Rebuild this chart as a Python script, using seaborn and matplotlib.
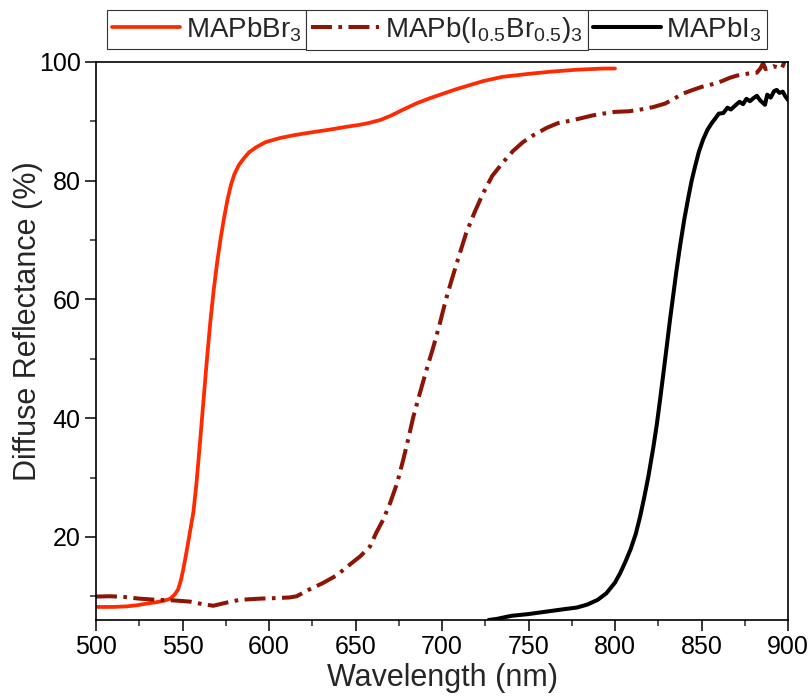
import matplotlib
matplotlib.use("Agg")
import matplotlib.pyplot as plt
import seaborn as sns
import numpy as np

# ---- data ----
br_x = [500, 510, 518, 524, 530, 535, 540, 543, 545.5, 547.4, 549, 550.5, 552.4, 554.3, 556.3,
        558, 560, 562, 564, 566, 568, 570, 572, 574, 576, 578, 580, 582.5, 585,
        588.5, 592.9, 598, 606.4, 615, 625.6, 635, 645, 652, 658, 664, 670, 677, 685, 693, 700,
        708, 716, 724, 735, 750, 764, 778, 793, 800]
br_y = [8.2, 8.2, 8.3, 8.5, 8.8, 9.0, 9.3, 9.6, 10.3, 11.1, 12.6, 14.6, 17.6, 20.8, 24.2,
        28.8, 35.5, 42.5, 49.5, 56.0, 61.5, 66.2, 70.2, 73.7, 76.8, 79.3, 81.1, 82.6, 83.6,
        84.8, 85.7, 86.5, 87.2, 87.7, 88.2, 88.6, 89.1, 89.4, 89.75, 90.2, 90.9, 91.9, 93.0, 93.9, 94.6,
        95.4, 96.1, 96.8, 97.5, 98.0, 98.4, 98.7, 98.9, 98.9]

mix_x = [500, 508, 515.8, 525, 535, 545, 554.3, 561, 567.8, 575, 583, 595, 605, 612, 616,
         623, 631, 639, 647, 653, 658.4, 662, 666, 670, 674, 677.6, 680.5, 683.4, 687, 691,
         695, 698.8, 702, 705.6, 710, 714, 719, 723.8, 729, 735, 741, 746.8, 753, 760.5, 767,
         774, 780, 787, 793, 800, 808, 815, 822, 829, 834, 839.5, 845, 850, 856.8, 862, 866,
         870.3, 874, 878, 882, 884, 885.6, 887, 889, 891.5, 894, 896.4, 897.5, 898.5, 900]
mix_y = [9.95, 10.0, 9.9, 9.6, 9.4, 9.3, 9.1, 8.7, 8.4, 8.9, 9.4, 9.6, 9.7, 9.8, 10.0,
         11.1, 12.2, 13.5, 15.4, 16.8, 18.4, 20.7, 22.9, 25.7, 29.0, 33.0, 36.5, 40.2, 44.0, 48.1,
         52.0, 56.0, 59.7, 63.3, 67.5, 71.2, 74.8, 77.9, 80.8, 83.0, 85.0, 86.5, 87.7, 88.9, 89.7,
         90.1, 90.5, 91.0, 91.3, 91.6, 91.7, 92.0, 92.4, 93.0, 93.8, 94.7, 95.3, 95.8, 96.3, 96.8, 97.3,
         97.7, 97.9, 98.1, 98.2, 98.9, 99.8, 98.8, 99.0, 99.3, 99.1, 98.9, 99.7, 100.5, 100.3]

i_x = [727, 732, 740, 750, 760, 770, 778, 784, 790, 795, 800, 803, 806, 809, 812, 814.5, 817,
       819.3, 822, 824.1, 826, 828, 830, 831.8, 833.7, 835.5, 837.6, 840, 842.4, 844.3, 846.2,
       848.5, 851, 853.5, 855.9, 858, 860, 862.6, 865, 867, 870, 872, 874, 876, 878, 880, 882,
       884, 886.7, 888, 890, 892, 893.5, 895, 897, 898.5, 900]
i_y = [6.0, 6.2, 6.7, 7.0, 7.4, 7.8, 8.1, 8.6, 9.4, 10.5, 12.3, 13.9, 15.8, 17.9, 20.5, 23.4, 26.8,
       30.2, 34.8, 38.8, 43.0, 47.6, 52.3, 56.6, 60.8, 64.8, 69.0, 73.4, 77.2, 80.0, 82.3,
       84.9, 87.0, 88.6, 89.7, 90.5, 91.3, 91.4, 92.3, 92.0, 92.8, 93.3, 92.9, 93.8, 93.4, 93.9, 94.3,
       93.5, 92.8, 94.5, 94.0, 95.1, 95.3, 94.8, 95.0, 94.2, 93.6]

labels = [r"MAPbBr$_\mathregular{3}$",
          r"MAPb(I$_\mathregular{0.5}$Br$_\mathregular{0.5}$)$_\mathregular{3}$",
          r"MAPbI$_\mathregular{3}$"]
x_ticks = [500, 550, 600, 650, 700, 750, 800, 850, 900]
y_ticks = [20, 40, 60, 80, 100]

# ---- style ----
sns.set_theme(style="ticks")
plt.rcParams["font.family"] = ["Liberation Sans", "DejaVu Sans"]
plt.rcParams["mathtext.fontset"] = "custom"
plt.rcParams["mathtext.rm"] = "Liberation Sans"
plt.rcParams["mathtext.it"] = "Liberation Sans:italic"
plt.rcParams["mathtext.bf"] = "Liberation Sans:bold"

W, H = 809, 696
fig = plt.figure(figsize=(W / 100, H / 100), dpi=100)
ax = fig.add_axes([96 / W, 1 - 620 / H, (788 - 96) / W, (620 - 62) / H])

red = "#FF2A00"
dred = "#8C1505"
sns.lineplot(x=br_x, y=br_y, ax=ax, color=red, lw=2.7, label=labels[0],
             estimator=None, sort=False)
sns.lineplot(x=mix_x, y=mix_y, ax=ax, color=dred, lw=2.9, label=labels[1],
             estimator=None, sort=False, linestyle=(0, (5.2, 1.6, 0.9, 1.6)))
sns.lineplot(x=i_x, y=i_y, ax=ax, color="black", lw=2.9, label=labels[2],
             estimator=None, sort=False)
ax.get_legend().remove()

ax.set_xlim(500, 900)
ax.set_ylim(6, 100)
ax.set_xticks(x_ticks)
ax.set_yticks(y_ticks)
ax.set_xticks(np.arange(525, 900, 50), minor=True)
ax.set_yticks(np.arange(10, 100, 20), minor=True)
ax.tick_params(axis="both", which="major", direction="out", length=8, width=1.1,
               labelsize=18, colors="black", top=False, right=False, pad=3)
ax.tick_params(axis="both", which="minor", direction="out", length=4, width=1.1,
               top=False, right=False)
for s in ax.spines.values():
    s.set_visible(True)
    s.set_linewidth(1.2)
    s.set_color("black")
ax.set_xlabel("Wavelength (nm)", fontsize=22, labelpad=3)
ax.set_ylabel("Diffuse Reflectance (%)", fontsize=22)
ax.yaxis.set_label_coords((43 - 96) / 692, 0.536)

# ---- legend: three adjacent boxed entries ----
handles = ax.get_lines()[:3]
x_left = 107
top = 1 - 10 / H
fig.canvas.draw()
for h, lab in zip(handles, labels):
    leg = fig.legend([h], [lab], loc="upper left", bbox_to_anchor=(x_left / W, top),
                     bbox_transform=fig.transFigure, frameon=True, fancybox=False,
                     edgecolor="#333333", framealpha=1, fontsize=20, handlelength=2.45,
                     handletextpad=0.2, borderpad=0.18, borderaxespad=0)
    leg.get_frame().set_linewidth(0.8)
    fig.canvas.draw()
    bb = leg.get_window_extent()
    x_left = bb.x1

fig.savefig("out.png", dpi=100)
